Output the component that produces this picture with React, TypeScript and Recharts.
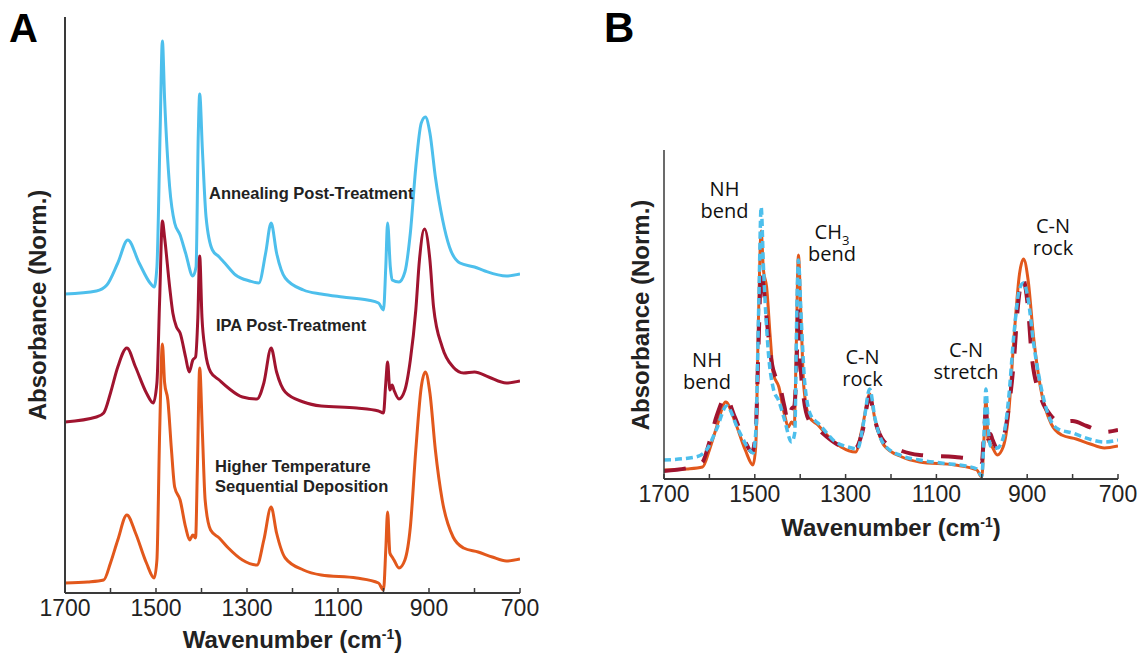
import React from 'react';
import { LineChart, Line, XAxis, YAxis } from 'recharts';

// ---- Wavenumber (cm-1) / normalized absorbance ----
const hotWn = [1700, 1650, 1615, 1600, 1584, 1564, 1545, 1521, 1504, 1498, 1492, 1486, 1481, 1474, 1466, 1459, 1447, 1435, 1426, 1419, 1413, 1409, 1404, 1398, 1392, 1380, 1361, 1341, 1310, 1278, 1263, 1247, 1235, 1216, 1176, 1137, 1059, 1011, 1000, 995, 991, 986, 981, 977, 966, 953, 941, 929, 917, 908, 898, 886, 871, 847, 824, 792, 761, 730, 700];
const hotAbs = [0.028, 0.032, 0.040, 0.108, 0.200, 0.300, 0.228, 0.108, 0.048, 0.120, 0.628, 0.984, 0.828, 0.760, 0.560, 0.412, 0.360, 0.252, 0.200, 0.220, 0.208, 0.492, 0.888, 0.628, 0.360, 0.240, 0.208, 0.168, 0.120, 0.100, 0.200, 0.332, 0.228, 0.128, 0.080, 0.060, 0.048, 0.028, 0.000, 0.160, 0.312, 0.148, 0.132, 0.120, 0.088, 0.120, 0.252, 0.560, 0.812, 0.872, 0.788, 0.560, 0.360, 0.212, 0.168, 0.152, 0.132, 0.116, 0.124];

const ipaWn = [1700, 1631, 1615, 1600, 1584, 1564, 1545, 1521, 1506, 1498, 1492, 1486, 1481, 1470, 1463, 1455, 1447, 1435, 1427, 1419, 1413, 1408, 1404, 1399, 1392, 1380, 1361, 1341, 1310, 1278, 1263, 1247, 1235, 1216, 1176, 1137, 1059, 1011, 1000, 995, 991, 986, 981, 977, 966, 953, 941, 929, 921, 910, 898, 890, 871, 847, 824, 800, 769, 730, 700];
const ipaAbs = [-0.036, -0.016, 0.000, 0.080, 0.184, 0.260, 0.184, 0.080, 0.040, 0.120, 0.452, 0.768, 0.700, 0.504, 0.400, 0.344, 0.320, 0.224, 0.164, 0.212, 0.224, 0.384, 0.628, 0.384, 0.252, 0.164, 0.132, 0.100, 0.064, 0.056, 0.120, 0.260, 0.164, 0.084, 0.044, 0.028, 0.020, 0.008, 0.000, 0.120, 0.204, 0.092, 0.112, 0.092, 0.056, 0.092, 0.212, 0.412, 0.612, 0.736, 0.612, 0.424, 0.264, 0.184, 0.160, 0.164, 0.144, 0.120, 0.128];

const annWn = [1700, 1631, 1608, 1584, 1562, 1537, 1513, 1504, 1498, 1491, 1486, 1481, 1470, 1459, 1447, 1435, 1419, 1412, 1407, 1404, 1398, 1390, 1376, 1361, 1349, 1325, 1294, 1274, 1259, 1247, 1235, 1216, 1176, 1137, 1090, 1035, 1011, 1000, 995, 991, 985, 981, 966, 953, 941, 929, 917, 908, 898, 886, 870, 855, 832, 800, 777, 730, 700];
const annAbs = [0.064, 0.076, 0.100, 0.188, 0.280, 0.188, 0.108, 0.092, 0.172, 0.708, 1.076, 0.840, 0.492, 0.348, 0.300, 0.228, 0.136, 0.172, 0.708, 0.864, 0.640, 0.372, 0.240, 0.212, 0.188, 0.140, 0.116, 0.108, 0.228, 0.348, 0.228, 0.128, 0.080, 0.064, 0.052, 0.040, 0.028, 0.000, 0.172, 0.348, 0.172, 0.120, 0.112, 0.152, 0.308, 0.572, 0.748, 0.772, 0.708, 0.532, 0.360, 0.252, 0.188, 0.172, 0.156, 0.136, 0.144];

// vertical offsets of each spectrum (panel A stacked, panel B overlaid)
const offsetsA = { hot: 0.012, ipa: 0.72, ann: 1.132 };
const offsetsB = { hot: 0.008, ipa: 0.068, ann: 0.012 };

const xTicks = [1700, 1600, 1500, 1400, 1300, 1200, 1100, 1000, 900, 800, 700];
const xTickLabels = [1700, 1500, 1300, 1100, 900, 700];

const BLUE = '#4DBFEC';
const RED = '#A0142F';
const ORANGE = '#E2581C';
const AXIS = '#3a3a3a';
const SANS = 'Liberation Sans, Arial, sans-serif';
const OPEN = '"Open Sans", "Noto Sans", sans-serif';

const build = (wn: number[], ab: number[], off: number) => wn.map((x, i) => ({ x, y: +(ab[i] + off).toFixed(4) }));

const tick = (props: any) => {
  const { x, y, payload } = props;
  const show = xTickLabels.includes(payload.value);
  return (
    <g>
      <line x1={x} x2={x} y1={y} y2={y - 5} stroke={AXIS} strokeWidth={1.5} />
      {show && (
        <text x={x} y={y + 23} textAnchor="middle" fontSize={23} fill="#222" fontFamily={SANS}>
          {payload.value}
        </text>
      )}
    </g>
  );
};

const Panel = ({ off, width, height, margin, yMax, yAxisWidth, xAxisHeight, dashed }: any) => {
  const hot = build(hotWn, hotAbs, off.hot);
  const ipa = build(ipaWn, ipaAbs, off.ipa);
  const ann = build(annWn, annAbs, off.ann);
  return (
    <LineChart width={width} height={height} margin={margin}>
      <XAxis
        type="number"
        dataKey="x"
        domain={[700, 1700]}
        reversed
        ticks={xTicks}
        interval={0}
        allowDataOverflow
        height={xAxisHeight}
        tickSize={0}
        tickMargin={0}
        tickLine={false}
        axisLine={{ stroke: AXIS, strokeWidth: 2 }}
        tick={tick}
      />
      <YAxis
        type="number"
        domain={[0, yMax]}
        allowDataOverflow
        width={yAxisWidth}
        tick={false}
        tickLine={false}
        axisLine={{ stroke: AXIS, strokeWidth: dashed ? 1.5 : 2 }}
      />
      {dashed ? (
        <>
          <Line data={hot} dataKey="y" type="monotone" stroke={ORANGE} strokeWidth={3} dot={false} isAnimationActive={false} />
          <Line data={ipa} dataKey="y" type="monotone" stroke={RED} strokeWidth={4} strokeDasharray="22 18" dot={false} isAnimationActive={false} />
          <Line data={ann} dataKey="y" type="monotone" stroke={BLUE} strokeWidth={3.5} strokeDasharray="7 4" dot={false} isAnimationActive={false} />
        </>
      ) : (
        <>
          <Line data={ann} dataKey="y" type="monotone" stroke={BLUE} strokeWidth={3} dot={false} isAnimationActive={false} />
          <Line data={ipa} dataKey="y" type="monotone" stroke={RED} strokeWidth={3} dot={false} isAnimationActive={false} />
          <Line data={hot} dataKey="y" type="monotone" stroke={ORANGE} strokeWidth={3} dot={false} isAnimationActive={false} />
        </>
      )}
    </LineChart>
  );
};

const XLabel = ({ x, y }: { x: number; y: number }) => (
  <text x={x} y={y} textAnchor="middle" fontSize={24} fontWeight="bold" fill="#222" fontFamily={SANS}>
    Wavenumber (cm<tspan dy={-9} fontSize={14}>-1</tspan><tspan dy={9}>)</tspan>
  </text>
);
const YLabel = ({ x, y }: { x: number; y: number }) => (
  <text x={x} y={y} transform={`rotate(-90 ${x} ${y})`} textAnchor="middle" fontSize={24} fontWeight="bold" fill="#222" fontFamily={SANS}>
    Absorbance (Norm.)
  </text>
);

const Ann = ({ x, y, lines }: { x: number; y: number; lines: React.ReactNode[] }) => (
  <>
    {lines.map((l, i) => (
      <text key={i} x={x} y={y + i * 22} textAnchor="middle" fontSize={20} fill="#111" fontFamily={OPEN}>
        {l}
      </text>
    ))}
  </>
);

export default function App() {
  return (
    <div style={{ position: 'absolute', left: 0, top: 0, width: 1143, height: 655, background: '#fff', overflow: 'hidden' }}>
      <div style={{ position: 'absolute', left: 0, top: 0 }}>
        <Panel off={offsetsA} width={560} height={655} margin={{ top: 17, right: 40, bottom: 0, left: 0 }} yMax={2.304} yAxisWidth={65} xAxisHeight={62} dashed={false} />
      </div>
      <div style={{ position: 'absolute', left: 600, top: 0 }}>
        <Panel off={offsetsB} width={543} height={655} margin={{ top: 150, right: 25, bottom: 0, left: 0 }} yMax={1.316} yAxisWidth={64} xAxisHeight={176} dashed={true} />
      </div>
      <svg width={1143} height={655} style={{ position: 'absolute', left: 0, top: 0, pointerEvents: 'none' }}>
        <text x={9} y={42} fontSize={40} fontWeight="bold" fill="#000" fontFamily={SANS}>A</text>
        <text x={604} y={42} fontSize={42} fontWeight="bold" fill="#000" fontFamily={SANS}>B</text>

        <XLabel x={292.5} y={648} />
        <YLabel x={46} y={305} />
        <XLabel x={891} y={536} />
        <YLabel x={649} y={315} />

        <g fontFamily={SANS} fontWeight="bold" fontSize={16.5} fill="#222">
          <text x={209} y={199}>Annealing Post-Treatment</text>
          <text x={216} y={331}>IPA Post-Treatment</text>
          <text x={215} y={472}>Higher Temperature</text>
          <text x={215} y={492}>Sequential Deposition</text>
        </g>

        <Ann x={724.5} y={196} lines={['NH', 'bend']} />
        <Ann x={832} y={239} lines={[<>CH<tspan dy={6} fontSize={13}>3</tspan></>, 'bend']} />
        <Ann x={1053} y={233} lines={['C-N', 'rock']} />
        <Ann x={707} y={367} lines={['NH', 'bend']} />
        <Ann x={862.5} y={364} lines={['C-N', 'rock']} />
        <Ann x={966} y={357} lines={['C-N', 'stretch']} />
      </svg>
    </div>
  );
}
